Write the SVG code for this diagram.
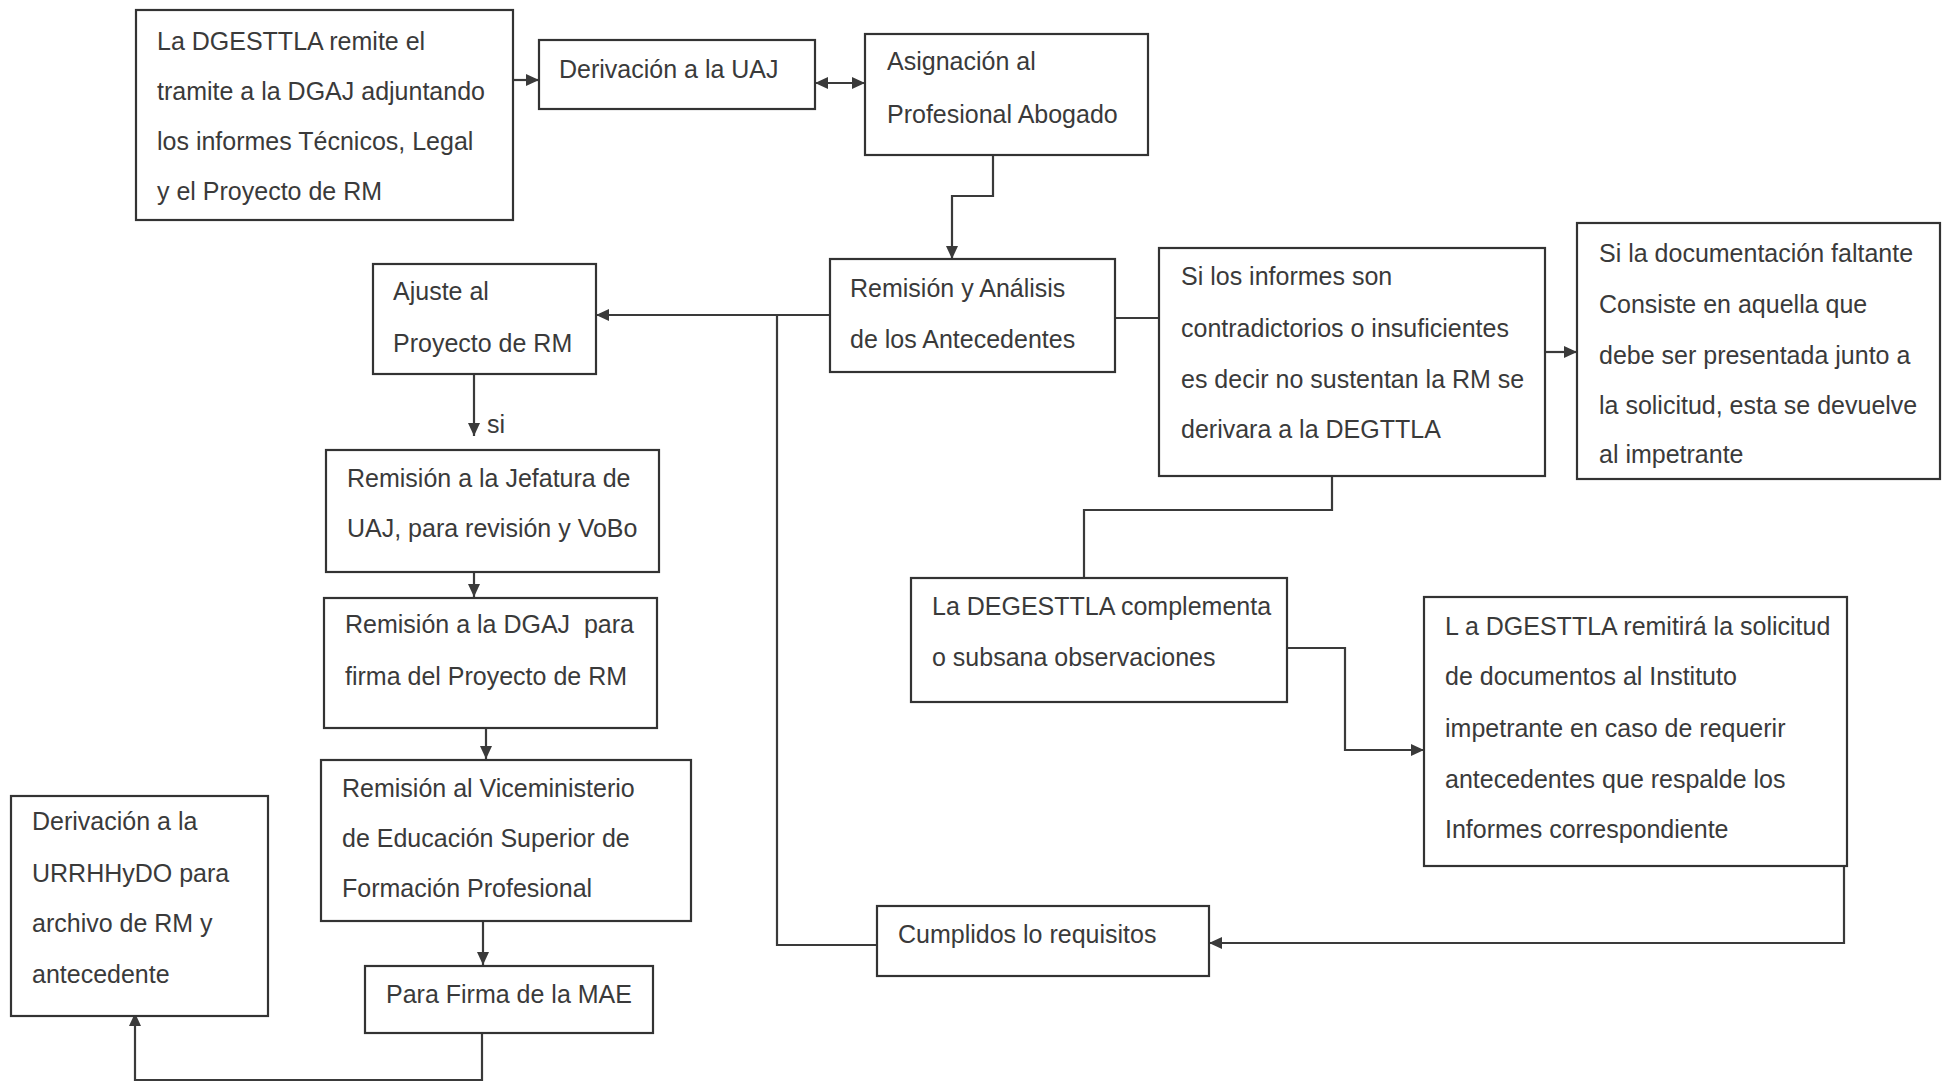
<svg xmlns="http://www.w3.org/2000/svg" width="1942" height="1088" viewBox="0 0 1942 1088">
<style>
.box{fill:#fff;stroke:#333;stroke-width:2.2}
.t{font-family:"Liberation Sans",Arial,sans-serif;font-size:25px;fill:#3a3a3a}
.c{fill:none;stroke:#3a3a3a;stroke-width:2.2}
</style>
<defs>
<marker id="ah" markerUnits="userSpaceOnUse" markerWidth="14" markerHeight="14" refX="13" refY="7" orient="auto-start-reverse" viewBox="0 0 14 14">
<path d="M0,1 L13,7 L0,13 z" fill="#3a3a3a"/>
</marker>
</defs>
<rect width="1942" height="1088" fill="#fff"/>
<g id="connectors">
<path class="c" d="M513,80 H539" marker-end="url(#ah)"/>
<path class="c" d="M815,83 H865" marker-start="url(#ah)" marker-end="url(#ah)"/>
<path class="c" d="M993,155 V196 H952 V259" marker-end="url(#ah)"/>
<path class="c" d="M830,315 H596" marker-end="url(#ah)"/>
<path class="c" d="M876,945 H777 V315"/>
<path class="c" d="M1115,318 H1159"/>
<path class="c" d="M1545,352 H1577" marker-end="url(#ah)"/>
<path class="c" d="M1332,477 V510 H1084 V577"/>
<path class="c" d="M1287,648 H1345 V750 H1424" marker-end="url(#ah)"/>
<path class="c" d="M1844,867 V943 H1209" marker-end="url(#ah)"/>
<path class="c" d="M474,375 V436" marker-end="url(#ah)"/>
<text class="t" x="487" y="433" font-size="22">si</text>
<path class="c" d="M474,558 V597" marker-end="url(#ah)"/>
<path class="c" d="M486,712 V759" marker-end="url(#ah)"/>
<path class="c" d="M483,919 V965" marker-end="url(#ah)"/>
<path class="c" d="M482,1031 V1080 H135 V1013" marker-end="url(#ah)"/>
</g>
<g id="n1"><rect class="box" x="136" y="10" width="377" height="210"/>
<text class="t" x="157" y="50">La DGESTTLA remite el</text>
<text class="t" x="157" y="100">tramite a la DGAJ adjuntando</text>
<text class="t" x="157" y="150">los informes Técnicos, Legal</text>
<text class="t" x="157" y="200">y el Proyecto de RM</text></g>
<g id="n2"><rect class="box" x="539" y="40" width="276" height="69"/>
<text class="t" x="559" y="78">Derivación a la UAJ</text></g>
<g id="n3"><rect class="box" x="865" y="34" width="283" height="121"/>
<text class="t" x="887" y="70">Asignación al</text>
<text class="t" x="887" y="123">Profesional Abogado</text></g>
<g id="n4"><rect class="box" x="830" y="259" width="285" height="113"/>
<text class="t" x="850" y="297">Remisión y Análisis</text>
<text class="t" x="850" y="348">de los Antecedentes</text></g>
<g id="n5"><rect class="box" x="373" y="264" width="223" height="110"/>
<text class="t" x="393" y="300">Ajuste al</text>
<text class="t" x="393" y="352">Proyecto de RM</text></g>
<g id="n6"><rect class="box" x="1159" y="248" width="386" height="228"/>
<text class="t" x="1181" y="285">Si los informes son</text>
<text class="t" x="1181" y="337">contradictorios o insuficientes</text>
<text class="t" x="1181" y="388">es decir no sustentan la RM se</text>
<text class="t" x="1181" y="438">derivara a la DEGTTLA</text></g>
<g id="n7"><rect class="box" x="1577" y="223" width="363" height="256"/>
<text class="t" x="1599" y="262">Si la documentación faltante</text>
<text class="t" x="1599" y="313">Consiste en aquella que</text>
<text class="t" x="1599" y="364">debe ser presentada junto a</text>
<text class="t" x="1599" y="414">la solicitud, esta se devuelve</text>
<text class="t" x="1599" y="463">al impetrante</text></g>
<g id="n8"><rect class="box" x="326" y="450" width="333" height="122"/>
<text class="t" x="347" y="487">Remisión a la Jefatura de</text>
<text class="t" x="347" y="537">UAJ, para revisión y VoBo</text></g>
<g id="n9"><rect class="box" x="911" y="578" width="376" height="124"/>
<text class="t" x="932" y="615">La DEGESTTLA complementa</text>
<text class="t" x="932" y="666">o subsana observaciones</text></g>
<g id="n10"><rect class="box" x="1424" y="597" width="423" height="269"/>
<text class="t" x="1445" y="635">L a DGESTTLA remitirá la solicitud</text>
<text class="t" x="1445" y="685">de documentos al Instituto</text>
<text class="t" x="1445" y="737">impetrante en caso de requerir</text>
<text class="t" x="1445" y="788">antecedentes que respalde los</text>
<text class="t" x="1445" y="838">Informes correspondiente</text></g>
<g id="n11"><rect class="box" x="324" y="598" width="333" height="130"/>
<text class="t" x="345" y="633" xml:space="preserve">Remisión a la DGAJ  para</text>
<text class="t" x="345" y="685">firma del Proyecto de RM</text></g>
<g id="n12"><rect class="box" x="321" y="760" width="370" height="161"/>
<text class="t" x="342" y="797">Remisión al Viceministerio</text>
<text class="t" x="342" y="847">de Educación Superior de</text>
<text class="t" x="342" y="897">Formación Profesional</text></g>
<g id="n13"><rect class="box" x="365" y="966" width="288" height="67"/>
<text class="t" x="386" y="1003">Para Firma de la MAE</text></g>
<g id="n14"><rect class="box" x="11" y="796" width="257" height="220"/>
<text class="t" x="32" y="830">Derivación a la</text>
<text class="t" x="32" y="882">URRHHyDO para</text>
<text class="t" x="32" y="932">archivo de RM y</text>
<text class="t" x="32" y="983">antecedente</text></g>
<g id="n15"><rect class="box" x="877" y="906" width="332" height="70"/>
<text class="t" x="898" y="943">Cumplidos lo requisitos</text></g>
</svg>
